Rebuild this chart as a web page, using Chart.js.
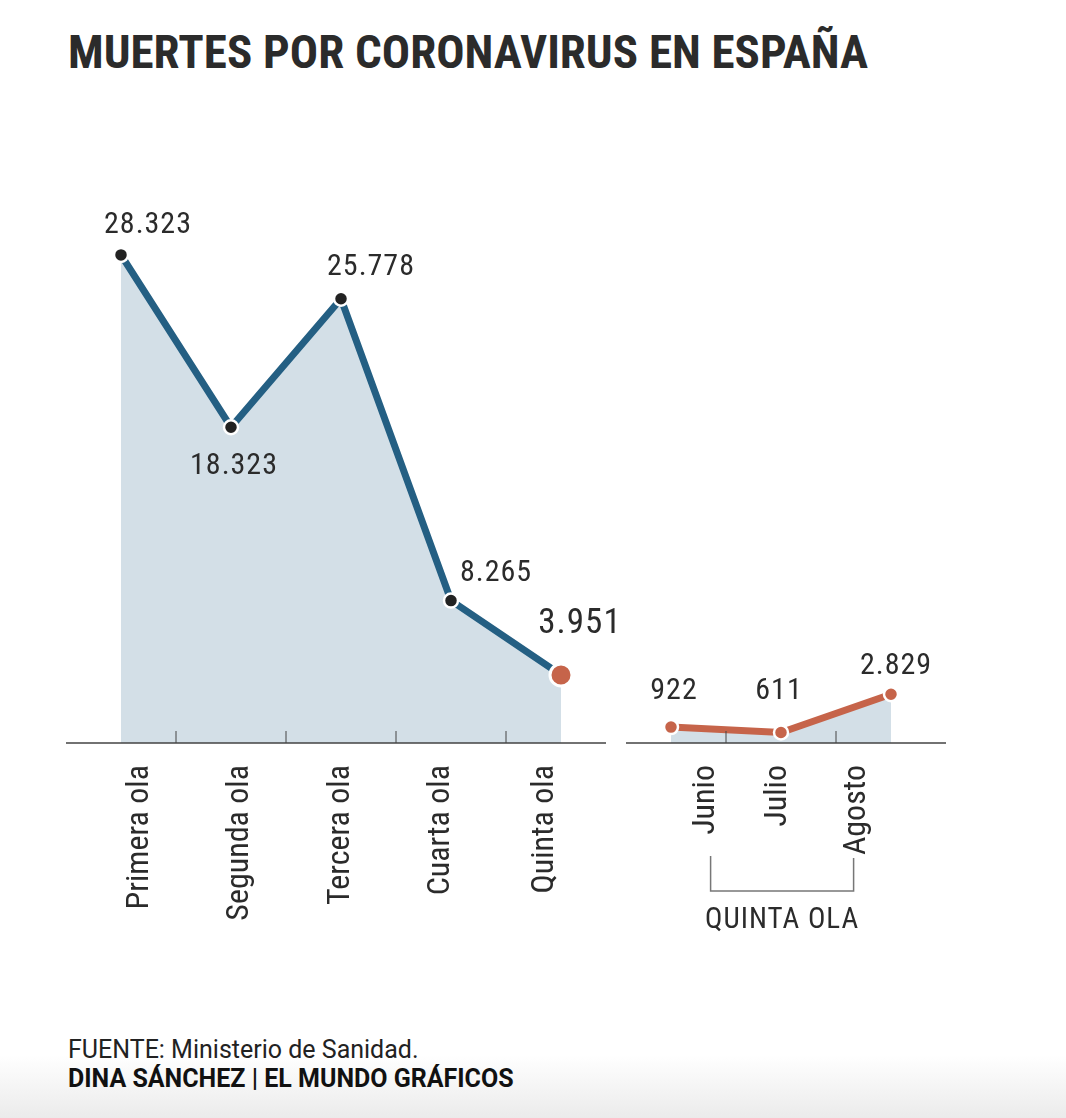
<!DOCTYPE html>
<html lang="es">
<head>
<meta charset="utf-8">
<title>Muertes por coronavirus en España</title>
<script src="https://cdn.jsdelivr.net/npm/chart.js@4.4.1/dist/chart.umd.min.js"></script>
<style>
  html, body { margin: 0; padding: 0; }
  body {
    width: 1066px; height: 1118px; position: relative; overflow: hidden;
    background: linear-gradient(to bottom, #fff 0, #fff 1055px, #ebebeb 1118px);
    font-family: Roboto, sans-serif;
  }
  #titulo {
    position: absolute; left: 68px; top: 24px; margin: 0;
    font-family: 'Roboto Condensed', 'Liberation Sans Narrow', 'DejaVu Sans Condensed', sans-serif;
    font-weight: bold; font-size: 47px; color: #2b2b2b;
  }
  #grafico { position: absolute; left: 0; top: 150px; width: 1066px; height: 800px; }
  #fuente { position: absolute; left: 68px; top: 1035px; font-size: 25px; line-height: 29px; color: #222; }
  #fuente b { color: #111; }
</style>
</head>
<body>
<h1 id="titulo">MUERTES POR CORONAVIRUS EN ESPAÑA</h1>
<div id="grafico"><canvas id="lienzo"></canvas></div>
<div id="fuente">FUENTE: Ministerio de Sanidad.<br><b>DINA SÁNCHEZ | EL MUNDO GRÁFICOS</b></div>

<script>
var categorias = ["Primera ola", "Segunda ola", "Tercera ola", "Cuarta ola", "Quinta ola", "Junio", "Julio", "Agosto"];
var olas = [28323, 18323, 25778, 8265, 3951, null, null, null];
var quintaOla = [null, null, null, null, null, 922, 611, 2829];
var grupo = "QUINTA OLA";

// desplazamiento de cada cifra respecto a su punto [dx, dy]
var posCifras = [[27, -29], [3, 39], [30, -31], [45, -27], [19, -51], [3, -36], [-2, -41], [5, -28]];
// desplazamiento horizontal de cada rótulo del eje respecto a su categoría
var despRotulos = [19, 9, 0, -10, -16, 35, -3, -34];

var azul = '#245f83';
var naranja = '#c6644a';
var relleno = '#d3dfe7';
var fuenteEstrecha = "'Roboto Condensed', 'Liberation Sans Narrow', 'DejaVu Sans Condensed', sans-serif";

function formato(n) {
  return String(n).replace(/\B(?=(\d{3})+(?!\d))/g, '.');
}

var decoracion = {
  id: 'decoracion',
  afterDatasetsDraw: function(chart) {
    var ctx = chart.ctx;
    var x = chart.scales.x;
    var area = chart.chartArea;
    var paso = x.getPixelForValue(1) - x.getPixelForValue(0);
    var corte = (x.getPixelForValue(4) + x.getPixelForValue(5)) / 2;

    ctx.save();
    // eje
    ctx.strokeStyle = '#444';
    ctx.lineWidth = 1.5;
    ctx.beginPath();
    ctx.moveTo(area.left, area.bottom);
    ctx.lineTo(corte - 10, area.bottom);
    ctx.moveTo(corte + 10, area.bottom);
    ctx.lineTo(area.right, area.bottom);
    ctx.stroke();

    // marcas entre categorías
    ctx.lineWidth = 1;
    ctx.beginPath();
    for (var i = 0; i < categorias.length - 1; i++) {
      if (i == 4) continue;
      var xm = (x.getPixelForValue(i) + x.getPixelForValue(i + 1)) / 2;
      ctx.moveTo(xm, area.bottom - 12);
      ctx.lineTo(xm, area.bottom);
    }
    ctx.stroke();

    // cifras
    ctx.fillStyle = '#2b2b2b';
    ctx.textAlign = 'center';
    ctx.textBaseline = 'middle';
    ctx.letterSpacing = '1px';
    chart.data.datasets.forEach(function(ds, d) {
      var meta = chart.getDatasetMeta(d);
      ds.data.forEach(function(v, i) {
        if (v == null) return;
        var p = meta.data[i];
        var tam = (i == 4) ? 35 : 30;
        ctx.font = tam + 'px ' + fuenteEstrecha;
        ctx.fillText(formato(v), p.x + posCifras[i][0], p.y + posCifras[i][1]);
      });
    });

    // rótulos del eje, girados
    ctx.letterSpacing = '0px';
    ctx.font = '32px ' + fuenteEstrecha;
    ctx.textAlign = 'right';
    categorias.forEach(function(c, i) {
      ctx.save();
      ctx.translate(x.getPixelForValue(i) + despRotulos[i], area.bottom + 22);
      ctx.rotate(-Math.PI / 2);
      ctx.fillText(c, 0, 0);
      ctx.restore();
    });

    // llave de la quinta ola
    var xa = x.getPixelForValue(5) + paso * 0.36;
    var xb = x.getPixelForValue(7) - paso * 0.34;
    ctx.strokeStyle = '#777';
    ctx.lineWidth = 1.5;
    ctx.beginPath();
    ctx.moveTo(xa, area.bottom + 113);
    ctx.lineTo(xa, area.bottom + 148);
    ctx.lineTo(xb, area.bottom + 148);
    ctx.lineTo(xb, area.bottom + 115);
    ctx.stroke();
    ctx.font = '29px ' + fuenteEstrecha;
    ctx.letterSpacing = '1px';
    ctx.textAlign = 'center';
    ctx.fillText(grupo, (xa + xb) / 2, area.bottom + 178);
    ctx.restore();
  }
};

var ctx = document.getElementById('lienzo');
var grafico = new Chart(ctx, {
  type: 'line',
  data: {
    labels: categorias,
    datasets: [
      {
        data: olas,
        borderColor: azul,
        borderWidth: 7,
        backgroundColor: relleno,
        fill: 'origin',
        tension: 0,
        clip: false,
        pointRadius: [7, 7, 7, 7, 11, 0, 0, 0],
        pointBackgroundColor: ['#222', '#222', '#222', '#222', naranja, '#222', '#222', '#222'],
        pointBorderColor: '#fff',
        pointBorderWidth: [2.5, 2.5, 2.5, 2.5, 3, 0, 0, 0]
      },
      {
        data: quintaOla,
        borderColor: naranja,
        borderWidth: 7,
        backgroundColor: relleno,
        fill: 'origin',
        tension: 0,
        clip: false,
        pointRadius: 7,
        pointBackgroundColor: naranja,
        pointBorderColor: '#fff',
        pointBorderWidth: 2.5
      }
    ]
  },
  options: {
    responsive: true,
    maintainAspectRatio: false,
    animation: false,
    layout: { padding: { top: 76, left: 66, right: 120, bottom: 0 } },
    plugins: {
      legend: { display: false },
      tooltip: { enabled: false }
    },
    scales: {
      x: {
        offset: true,
        grid: { display: false, drawTicks: false },
        border: { display: false },
        ticks: { display: false },
        afterFit: function(scale) { scale.height = 207; }
      },
      y: {
        display: false,
        min: 0,
        max: 30000
      }
    }
  },
  plugins: [decoracion]
});
</script>
</body>
</html>
